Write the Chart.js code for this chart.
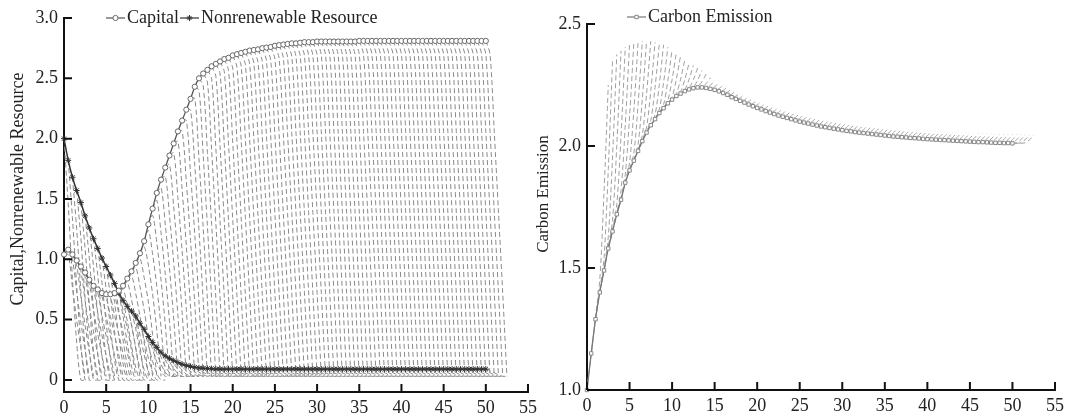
<!DOCTYPE html>
<html>
<head>
<meta charset="utf-8">
<script src="https://cdn.jsdelivr.net/npm/chart.js@4.4.1/dist/chart.umd.min.js"></script>
<style>
  html, body { margin: 0; padding: 0; background: #fff; }
  #wrap { position: relative; width: 1069px; height: 417px; }
  canvas { position: absolute; top: 0; }
  #left { left: 0; }
  #right { left: 534px; }
</style>
</head>
<body>
<div id="wrap">
  <canvas id="left" width="542" height="417"></canvas>
  <canvas id="right" width="535" height="417"></canvas>
</div>
<script>
// time grid of the simulation (one marker every half unit, t = 0 .. 50)
const timeStep = 0.5;

const xTicks = [0, 5, 10, 15, 20, 25, 30, 35, 40, 45, 50, 55];
const leftYTicks = [0, 0.5, 1, 1.5, 2, 2.5, 3];
const rightYTicks = [1, 1.5, 2, 2.5];

const capital = [
  1.04, 1.08, 1.04, 0.99, 0.94, 0.89, 0.83, 0.78, 0.75, 0.72,
  0.71, 0.71, 0.72, 0.74, 0.78, 0.84, 0.90, 0.97, 1.05, 1.15,
  1.29, 1.42, 1.55, 1.66, 1.76, 1.86, 1.96, 2.06, 2.15, 2.24,
  2.33, 2.43, 2.50, 2.54, 2.57, 2.60, 2.62, 2.64, 2.66, 2.67,
  2.69, 2.70, 2.71, 2.72, 2.73, 2.735, 2.74, 2.75, 2.755, 2.76,
  2.77, 2.775, 2.78, 2.785, 2.79, 2.79, 2.795, 2.80, 2.80, 2.80,
  2.805, 2.805, 2.805, 2.805, 2.805, 2.805, 2.805, 2.805, 2.805, 2.805,
  2.81, 2.81, 2.81, 2.81, 2.81, 2.81, 2.81, 2.81, 2.81, 2.81,
  2.81, 2.81, 2.81, 2.81, 2.81, 2.81, 2.81, 2.81, 2.81, 2.81,
  2.81, 2.81, 2.81, 2.81, 2.81, 2.81, 2.81, 2.81, 2.81, 2.81,
  2.81
];

const resource = [
  2.00, 1.82, 1.68, 1.57, 1.47, 1.36, 1.26, 1.17, 1.09, 1.01,
  0.94, 0.87, 0.80, 0.72, 0.66, 0.61, 0.57, 0.53, 0.47, 0.42,
  0.36, 0.31, 0.27, 0.23, 0.20, 0.18, 0.16, 0.145, 0.13, 0.12,
  0.112, 0.105, 0.10, 0.097, 0.095, 0.093, 0.09, 0.09, 0.09, 0.09,
  0.09, 0.09, 0.09, 0.09, 0.09, 0.09, 0.09, 0.09, 0.09, 0.09,
  0.09, 0.09, 0.09, 0.09, 0.09, 0.09, 0.09, 0.09, 0.09, 0.09,
  0.09, 0.09, 0.09, 0.09, 0.09, 0.09, 0.09, 0.09, 0.09, 0.09,
  0.09, 0.09, 0.09, 0.09, 0.09, 0.09, 0.09, 0.09, 0.09, 0.09,
  0.09, 0.09, 0.09, 0.09, 0.09, 0.09, 0.09, 0.09, 0.09, 0.09,
  0.09, 0.09, 0.09, 0.09, 0.09, 0.09, 0.09, 0.09, 0.09, 0.09,
  0.09
];

const carbon = [
  1.00, 1.15, 1.29, 1.40, 1.49, 1.58, 1.65, 1.72, 1.78, 1.85,
  1.90, 1.94, 1.98, 2.02, 2.055, 2.085, 2.11, 2.135, 2.155, 2.175,
  2.19, 2.205, 2.215, 2.225, 2.232, 2.237, 2.24, 2.24, 2.238, 2.234,
  2.23, 2.224, 2.217, 2.21, 2.20, 2.193, 2.185, 2.178, 2.17, 2.163,
  2.156, 2.15, 2.143, 2.137, 2.131, 2.125, 2.12, 2.115, 2.11, 2.105,
  2.10, 2.096, 2.092, 2.088, 2.084, 2.08, 2.077, 2.074, 2.071, 2.068,
  2.065, 2.062, 2.06, 2.057, 2.055, 2.053, 2.051, 2.049, 2.047, 2.045,
  2.043, 2.041, 2.039, 2.038, 2.036, 2.035, 2.033, 2.032, 2.031, 2.029,
  2.028, 2.027, 2.026, 2.025, 2.024, 2.023, 2.022, 2.021, 2.02, 2.019,
  2.018, 2.017, 2.016, 2.016, 2.015, 2.014, 2.013, 2.013, 2.012, 2.012,
  2.011
];

// dashed forecast paths: one per time step, 2.5 units long
const predOffsets = [0, 0.5, 1, 1.5, 2, 2.5];
const capitalPredWeight = [0, 0.04, 0.27, 0.51, 0.75, 1];
const resourcePredWeight = [0, 0.2, 0.5, 0.8, 1, 1];
const carbonPredWeight = [0, 0, 0.01, 0.06, 0.42, 1];

const capitalPredEnd = 0.03;
const resourcePredEndEarly = 0;    // paths starting up to t = 9.5 run out
const resourcePredEndLate = 0.03;
const resourceRunsOutUntil = 9.5;

// where each carbon forecast path ends (value at start + 2.5)
const carbonPredEnd = [
  2.25, 2.35, 2.375, 2.39, 2.405, 2.415, 2.42, 2.425, 2.43, 2.43,
  2.43, 2.425, 2.42, 2.415, 2.405, 2.395, 2.385, 2.37, 2.355, 2.34,
  2.33, 2.32, 2.31, 2.295, 2.28, 2.27, 2.26, 2.25, 2.243, 2.235,
  2.228, 2.22, 2.213, 2.205, 2.198, 2.19, 2.185, 2.178, 2.172, 2.166,
  2.16, 2.155, 2.15, 2.145, 2.14, 2.135, 2.131, 2.127, 2.123, 2.119,
  2.115, 2.112, 2.109, 2.106, 2.103, 2.10, 2.097, 2.095, 2.092, 2.09,
  2.088, 2.086, 2.084, 2.082, 2.08, 2.078, 2.076, 2.074, 2.073, 2.071,
  2.07, 2.068, 2.067, 2.066, 2.064, 2.063, 2.062, 2.061, 2.06, 2.059,
  2.058, 2.057, 2.056, 2.055, 2.054, 2.053, 2.052, 2.052, 2.051, 2.05,
  2.05, 2.049, 2.049, 2.048, 2.048, 2.047, 2.047, 2.046, 2.046, 2.046,
  2.045
];

Chart.defaults.font.family = "'Liberation Serif', 'Times New Roman', serif";
Chart.defaults.color = '#222';

function series(values) {
  return values.map((v, i) => ({ x: i * timeStep, y: v }));
}

// each path leaves the main curve and bends to its end value
function forecastPaths(main, endFor, weights) {
  const pts = [];
  main.forEach((v, i) => {
    const end = endFor(i);
    predOffsets.forEach((o, j) => {
      const k = Math.min(i + j, main.length - 1);
      pts.push({ x: i * timeStep + o, y: (1 - weights[j]) * main[k] + weights[j] * end });
    });
    pts.push({ x: i * timeStep + 2.5, y: null });
  });
  return pts;
}

const innerTicks = {
  id: 'innerTicks',
  afterDraw(chart) {
    const { ctx, chartArea } = chart;
    const xs = chart.scales.x, ys = chart.scales.y;
    ctx.save();
    ctx.strokeStyle = '#111';
    ctx.lineWidth = 2;
    ctx.beginPath();
    xs.ticks.forEach(t => {
      const px = xs.getPixelForValue(t.value);
      ctx.moveTo(px, chartArea.bottom);
      ctx.lineTo(px, chartArea.bottom - 8);
    });
    ys.ticks.forEach(t => {
      const py = ys.getPixelForValue(t.value);
      ctx.moveTo(chartArea.left, py);
      ctx.lineTo(chartArea.left + 8, py);
    });
    ctx.stroke();
    ctx.restore();
  }
};

// vertical axis name, placed a little above the axis centre as in the figure
const axisName = {
  id: 'axisName',
  afterDraw(chart, args, opts) {
    const ctx = chart.ctx;
    ctx.save();
    ctx.font = opts.size + "px 'Liberation Serif', serif";
    ctx.fillStyle = '#222';
    ctx.textAlign = 'center';
    ctx.textBaseline = 'middle';
    ctx.translate(opts.x, opts.y);
    ctx.rotate(-Math.PI / 2);
    ctx.fillText(opts.text, 0, 0);
    ctx.restore();
  }
};

const seriesKey = {
  id: 'seriesKey',
  afterDraw(chart, args, opts) {
    const ctx = chart.ctx;
    ctx.save();
    ctx.font = "18px 'Liberation Serif', serif";
    ctx.textBaseline = 'middle';
    opts.items.forEach(item => {
      const ds = chart.data.datasets[item.dataset];
      ctx.strokeStyle = ds.borderColor;
      ctx.lineWidth = 1.2;
      ctx.beginPath();
      ctx.moveTo(item.x, opts.y);
      ctx.lineTo(item.x + 19, opts.y);
      ctx.stroke();
      ctx.strokeStyle = ds.pointBorderColor;
      ctx.fillStyle = ds.pointBackgroundColor;
      ctx.lineWidth = 1;
      Chart.helpers.drawPoint(ctx, { pointStyle: ds.pointStyle, radius: ds.pointRadius, rotation: 0, borderWidth: 1 }, item.x + 9.5, opts.y);
      ctx.fillStyle = '#222';
      ctx.fillText(item.text, item.x + 21, opts.y);
    });
    ctx.restore();
  }
};

function xScale(height) {
  return {
    type: 'linear', min: 0, max: 55,
    afterBuildTicks: s => { s.ticks = xTicks.map(v => ({ value: v })); },
    afterFit: s => { s.height = height; },
    ticks: { font: { size: 18 }, padding: 5, maxRotation: 0, autoSkip: false },
    grid: { drawOnChartArea: false, drawTicks: false },
    border: { color: '#111', width: 2 }
  };
}

new Chart(document.getElementById('left'), {
  type: 'line',
  data: {
    datasets: [
      {
        label: 'Capital', data: series(capital), clip: false,
        borderColor: '#555', borderWidth: 1.3, tension: 0.3,
        pointStyle: 'circle', pointRadius: 2.6, pointBorderWidth: 1,
        pointBorderColor: '#666', pointBackgroundColor: '#fff'
      },
      {
        label: 'Nonrenewable Resource', data: series(resource), clip: false,
        borderColor: '#333', borderWidth: 1.5, tension: 0.3,
        pointStyle: 'star', pointRadius: 3, pointBorderWidth: 1,
        pointBorderColor: '#333', pointBackgroundColor: '#333'
      },
      {
        label: 'capital forecast',
        data: forecastPaths(capital, () => capitalPredEnd, capitalPredWeight),
        borderColor: '#8a8a8a', borderWidth: 1, borderDash: [5, 3],
        pointRadius: 0, tension: 0.3, spanGaps: false
      },
      {
        label: 'resource forecast',
        data: forecastPaths(resource, i => i * timeStep <= resourceRunsOutUntil ? resourcePredEndEarly : resourcePredEndLate, resourcePredWeight),
        borderColor: '#8a8a8a', borderWidth: 1, borderDash: [5, 3],
        pointRadius: 0, tension: 0.3, spanGaps: false
      }
    ]
  },
  options: {
    responsive: false, animation: false, devicePixelRatio: 1,
    layout: { padding: { top: 18, right: 11, left: 0, bottom: 0 } },
    plugins: {
      legend: { display: false }, tooltip: { enabled: false },
      seriesKey: { y: 18, items: [
        { x: 106, text: 'Capital', dataset: 0 },
        { x: 180, text: 'Nonrenewable Resource', dataset: 1 }
      ] },
      axisName: { text: 'Capital,Nonrenewable Resource', x: 18, y: 189, size: 18 }
    },
    scales: {
      x: xScale(25),
      y: {
        type: 'linear', min: -0.1, max: 3,
        afterBuildTicks: s => { s.ticks = leftYTicks.map(v => ({ value: v })); },
        afterFit: s => { s.width = 64; },
        ticks: { font: { size: 18 }, padding: 6, callback: v => v === 0 ? '0' : v.toFixed(1) },
        grid: { drawOnChartArea: false, drawTicks: false },
        border: { color: '#111', width: 2 }
      }
    }
  },
  plugins: [innerTicks, seriesKey, axisName]
});

new Chart(document.getElementById('right'), {
  type: 'line',
  data: {
    datasets: [
      {
        label: 'Carbon Emission', data: series(carbon), clip: false,
        borderColor: '#777', borderWidth: 1.3, tension: 0.3,
        pointStyle: 'rect', pointRadius: 2.4, pointBorderWidth: 1,
        pointBorderColor: '#888', pointBackgroundColor: '#fff'
      },
      {
        label: 'carbon forecast',
        data: forecastPaths(carbon, i => carbonPredEnd[i], carbonPredWeight),
        borderColor: '#a0a0a0', borderWidth: 1, borderDash: [5, 3],
        pointRadius: 0, tension: 0.3, spanGaps: false
      }
    ]
  },
  options: {
    responsive: false, animation: false, devicePixelRatio: 1,
    layout: { padding: { top: 24, right: 13, left: 0, bottom: 0 } },
    plugins: {
      legend: { display: false }, tooltip: { enabled: false },
      seriesKey: { y: 17, items: [
        { x: 93, text: 'Carbon Emission', dataset: 0 }
      ] },
      axisName: { text: 'Carbon Emission', x: 10, y: 194, size: 17 }
    },
    scales: {
      x: xScale(27),
      y: {
        type: 'linear', min: 1, max: 2.5,
        afterBuildTicks: s => { s.ticks = rightYTicks.map(v => ({ value: v })); },
        afterFit: s => { s.width = 53; },
        ticks: { font: { size: 18 }, padding: 6, callback: v => v.toFixed(1) },
        grid: { drawOnChartArea: false, drawTicks: false },
        border: { color: '#111', width: 2 }
      }
    }
  },
  plugins: [innerTicks, seriesKey, axisName]
});
</script>
</body>
</html>
